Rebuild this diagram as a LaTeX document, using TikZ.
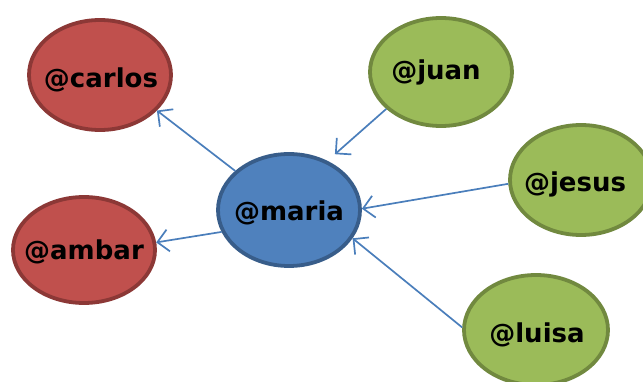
\documentclass[tikz,border=0pt]{standalone}
\usepackage{fontspec}
\setmainfont{DejaVu Sans}
\usetikzlibrary{shapes.geometric,arrows.meta}
\definecolor{redfill}{HTML}{C0504D}
\definecolor{redline}{HTML}{8C3836}
\definecolor{bluefill}{HTML}{4F81BD}
\definecolor{blueline}{HTML}{385D8A}
\definecolor{greenfill}{HTML}{9BBB59}
\definecolor{greenline}{HTML}{71893F}
\definecolor{linkcol}{HTML}{4A7EBB}
\tikzset{
  user/.style={ellipse, inner sep=0pt, minimum width=142pt, minimum height=110pt,
    line width=3.8pt},
  handletext/.style={font=\fontsize{26}{28}\selectfont\bfseries, inner sep=0pt},
  redu/.style={user, fill=redfill, draw=redline},
  blueu/.style={user, fill=bluefill, draw=blueline},
  greenu/.style={user, fill=greenfill, draw=greenline},
  link/.style={draw=linkcol, line width=1.7pt,
    -{Straight Barb[length=11pt,width=22pt,line width=1.7pt]}}
}
\begin{document}
\begin{tikzpicture}[x=1pt,y=-1pt]
\useasboundingbox (0,0) rectangle (643,382);
% user bubbles
\node[redu] (carlos) at (100,75) {};
\node[redu, minimum height=106pt] (ambar) at (84,250) {};
\node[blueu, minimum height=112pt] (maria) at (289,210) {};
\node[greenu, minimum height=108pt] (juan) at (441,72) {};
\node[greenu] (jesus) at (581,180) {};
\node[greenu, minimum width=144pt] (luisa) at (536,330) {};
% handles
\node[handletext] (tcarlos) at (101,80) {@carlos};
\node[handletext] (tambar) at (84,252) {@ambar};
\node[handletext] (tmaria) at (289,213) {@maria};
\node[handletext] (tjuan) at (436,72) {@juan};
\node[handletext] (tjesus) at (575,184) {@jesus};
\node[handletext] (tluisa) at (537,335) {@luisa};
% follow links
\draw[link] (maria.144) -- (carlos.-32);
\draw[link] (maria.198) -- (ambar.6);
\draw[link, shorten >=10pt] (juan.214) -- (maria.52);
\draw[link] (jesus.183) -- (maria.1);
\draw[link] (luisa.178) -- (maria.-24);
\end{tikzpicture}
\end{document}
